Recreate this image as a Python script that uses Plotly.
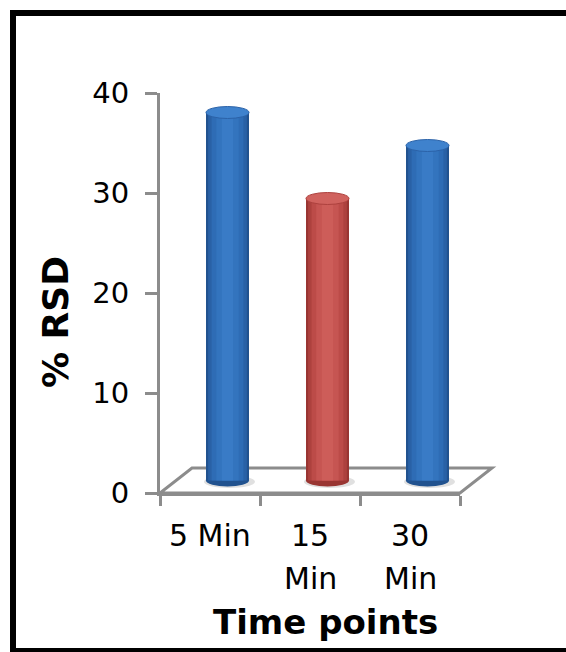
import plotly.graph_objects as go

# Data
categories = ["5 Min", "15 Min", "30 Min"]
label_lines = [["5 Min"], ["15", "Min"], ["30", "Min"]]
rsd_values = [36.8, 28.2, 33.5]
bar_tones = ["blue", "red", "blue"]
y_ticks = [0, 10, 20, 30, 40]

W, H = 566, 652
GRAY = "#8c8c8c"
FONT = "DejaVu Sans"


def fx(px):
    return px / W


def fy(py):
    return 1 - py / H


# shading bands for the cylinders: (relative width, blue, red)
bands = [
    (1.00, "#21528f", "#993532"),
    (0.90, "#2961a6", "#ad413e"),
    (0.74, "#2e6cb5", "#bc4b48"),
    (0.52, "#3374be", "#c65552"),
    (0.26, "#397bc6", "#cd5d59"),
]
cap_fill = {"blue": "#3f82cd", "red": "#d0625e"}
cap_line = {"blue": "#2b62a8", "red": "#ad413e"}
base_fill = {"blue": "#21528f", "red": "#993532"}

BAR_W = 0.43
xpos = [i + 0.5 for i in range(len(categories))]

fig = go.Figure()

# cylinders sit half-way into the floor depth: drawn on shifted overlay axes
for rel, cb, cr in bands:
    fig.add_trace(go.Bar(
        x=xpos, y=rsd_values, width=BAR_W * rel,
        marker=dict(color=[cb if t == "blue" else cr for t in bar_tones],
                    line=dict(width=0)),
        xaxis="x2", yaxis="y2", hoverinfo="skip", showlegend=False,
    ))

shapes = []
# floor of the chart box (front edge on the x axis, back edge set in depth)
shapes.append(dict(
    type="path", xref="paper", yref="paper", layer="below",
    path=(f"M {fx(160)} {fy(493)} L {fx(460)} {fy(493)} "
          f"L {fx(492)} {fy(468)} L {fx(192)} {fy(468)} Z"),
    line=dict(color=GRAY, width=3), fillcolor="white",
))
half_h = 0.6
for xc, v, t in zip(xpos, rsd_values, bar_tones):
    # soft shadow and bottom of each cylinder
    shapes.append(dict(
        type="circle", xref="x2", yref="y2", layer="below",
        x0=xc - BAR_W / 2 - 0.02, x1=xc + BAR_W / 2 + 0.06,
        y0=-half_h - 0.15, y1=half_h - 0.1,
        fillcolor="rgba(0,0,0,0.12)", line=dict(width=0),
    ))
    shapes.append(dict(
        type="circle", xref="x2", yref="y2", layer="below",
        x0=xc - BAR_W / 2, x1=xc + BAR_W / 2, y0=-half_h, y1=half_h,
        fillcolor=base_fill[t], line=dict(width=0),
    ))
    # top face of each cylinder
    shapes.append(dict(
        type="circle", xref="x2", yref="y2", layer="above",
        x0=xc - BAR_W / 2, x1=xc + BAR_W / 2, y0=v - half_h, y1=v + half_h,
        fillcolor=cap_fill[t], line=dict(color=cap_line[t], width=1),
    ))
# outer frame
shapes.append(dict(
    type="rect", xref="paper", yref="paper",
    x0=fx(13), x1=1.05, y0=fy(651), y1=fy(13),
    line=dict(color="black", width=6), fillcolor="rgba(0,0,0,0)",
))

annotations = []
for xc, lines in zip(xpos, label_lines):
    for k, txt in enumerate(lines):
        annotations.append(dict(
            x=xc, xref="x", y=fy(535 + 43 * k), yref="paper",
            text=txt, showarrow=False, xanchor="center", yanchor="middle",
            font=dict(family=FONT, size=30, color="black"),
        ))
annotations.append(dict(
    x=fx(325), y=fy(622), xref="paper", yref="paper", text="<b>Time points</b>",
    showarrow=False, xanchor="center", yanchor="middle",
    font=dict(family=FONT, size=34, color="black"),
))
annotations.append(dict(
    x=fx(55), y=fy(322), xref="paper", yref="paper", text="<b>% RSD</b>",
    showarrow=False, xanchor="center", yanchor="middle", textangle=-90,
    font=dict(family=FONT, size=36, color="black"),
))

fig.update_layout(
    width=W, height=H,
    margin=dict(l=0, r=0, t=0, b=0, autoexpand=False),
    paper_bgcolor="white", plot_bgcolor="rgba(0,0,0,0)",
    barmode="overlay", showlegend=False,
    xaxis=dict(
        domain=[fx(160), fx(460)], range=[0, 3], anchor="y",
        showline=True, linecolor=GRAY, linewidth=3,
        ticks="outside", tickvals=[0, 1, 2, 3], ticklen=10, tickwidth=3,
        tickcolor=GRAY, showticklabels=False, showgrid=False, zeroline=False,
        fixedrange=True,
    ),
    yaxis=dict(
        domain=[fy(493), fy(93)], range=[0, 40], anchor="x",
        showline=True, linecolor=GRAY, linewidth=3,
        ticks="outside", tickvals=y_ticks, ticklen=12, tickwidth=3,
        tickcolor=GRAY, ticklabelstandoff=10,
        tickfont=dict(family=FONT, size=29, color="black"),
        showgrid=False, zeroline=False, fixedrange=True,
    ),
    # same pixel scale as the main axes, shifted back by half the floor depth
    xaxis2=dict(
        range=[-0.175, 2.825], anchor="y2",
        overlaying="x", visible=False, fixedrange=True,
    ),
    yaxis2=dict(
        range=[-1.25, 38.75], anchor="x2",
        overlaying="y", visible=False, fixedrange=True,
    ),
    shapes=shapes,
    annotations=annotations,
)

fig.write_html("out.html")
